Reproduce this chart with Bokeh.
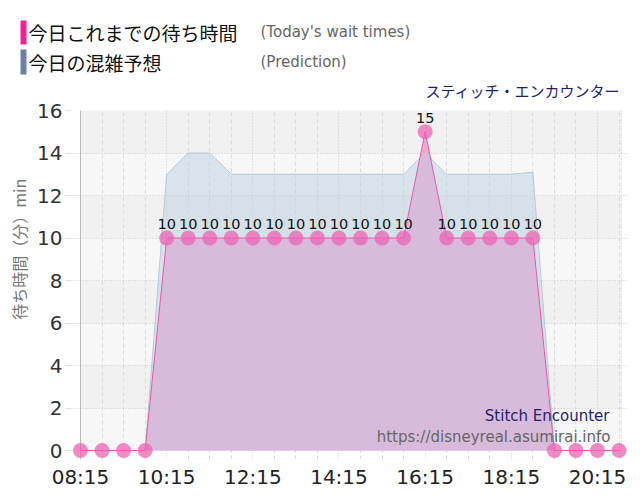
import math
from bokeh.plotting import figure
from bokeh.models import (Range1d, FixedTicker, Label, Span, ColumnDataSource)
from bokeh.layouts import column, row
from bokeh.core.properties import value
from bokeh.embed import file_html
from bokeh.resources import INLINE

# ---------------- data ----------------
times = ["08:15", "08:45", "09:15", "09:45", "10:15", "10:45", "11:15", "11:45",
         "12:15", "12:45", "13:15", "13:45", "14:15", "14:45", "15:15", "15:45",
         "16:15", "16:45", "17:15", "17:45", "18:15", "18:45", "19:15", "19:45",
         "20:15", "20:45"]
wait_times = [0, 0, 0, 0, 10, 10, 10, 10, 10, 10, 10, 10, 10, 10, 10, 10,
              15, 10, 10, 10, 10, 10, 0, 0, 0, 0]
prediction = [0, 0, 0, 0, 13, 14, 14, 13, 13, 13, 13, 13, 13, 13, 13, 13,
              14, 13, 13, 13, 13, 13.1, 0, 0, 0, 0]
x_tick_labels = ["08:15", "10:15", "12:15", "14:15", "16:15", "18:15", "20:15"]
y_ticks = [0, 2, 4, 6, 8, 10, 12, 14, 16]

title_ja = "スティッチ・エンカウンター"
title_en = "Stitch Encounter"
site = "https://disneyreal.asumirai.info"
legend_wait = "今日これまでの待ち時間"
legend_wait_en = "(Today's wait times)"
legend_pred = "今日の混雑予想"
legend_pred_en = "(Prediction)"
y_label = "待ち時間（分）min"


def to_h(t):
    h, m = t.split(":")
    return int(h) + int(m) / 60.0


xs = [to_h(t) for t in times]
x_ticks = [to_h(t) for t in x_tick_labels]
minor = [x_ticks[0] + 0.5 * k for k in range(26) if (0.5 * k) % 2 != 0]

TOTAL_W = 632
TOP_H = 100
LEFT_W = 34
MAIN_H = 395
FL, FB = 71, 459  # frame left / bottom in page pixels


def blank(w, h, xr, yr):
    f = figure(width=w, height=h, output_backend="svg", toolbar_location=None,
               x_range=xr, y_range=yr, min_border=0, min_border_left=0,
               min_border_right=0, min_border_top=0, min_border_bottom=0,
               background_fill_color="white", border_fill_color="white",
               outline_line_color=None)
    f.axis.visible = False
    f.grid.visible = False
    return f


# ---------------- top (legend + title) ----------------
top = blank(TOTAL_W, TOP_H, Range1d(0, TOTAL_W), Range1d(TOP_H, 0))
top.quad(left=[20, 20], right=[26, 26], top=[20, 49], bottom=[44, 74],
         fill_color=["#ff1e96", "#6a82a8"], line_color=None)


def tlab(f, x, y, text, size, color, font, align="left", angle=0.0):
    f.add_layout(Label(x=x, y=y, text=text, text_font=font, text_font_size=size,
                       text_color=color, text_align=align,
                       text_baseline="middle", angle=angle))


tlab(top, 28, 32, legend_wait, "19px", "#111111", "Noto Sans CJK JP")
tlab(top, 28, 62, legend_pred, "19px", "#111111", "Noto Sans CJK JP")
tlab(top, 260, 31, legend_wait_en, "15px", "#666666", "DejaVu Sans")
tlab(top, 260, 61, legend_pred_en, "15px", "#666666", "DejaVu Sans")
tlab(top, 620, 90, title_ja, "15px", "#1f1f6b", "Noto Sans CJK JP", align="right")

# ---------------- left (y axis title) ----------------
left = blank(LEFT_W, MAIN_H, Range1d(0, LEFT_W), Range1d(TOP_H + MAIN_H, TOP_H))
tlab(left, 18, 257, y_label, "16px", "#777777", "Noto Sans CJK JP",
     align="center", angle=math.pi / 2)

# ---------------- main chart ----------------
MAIN_W = TOTAL_W - LEFT_W
p = figure(width=MAIN_W, height=MAIN_H, output_backend="svg",
           toolbar_location=None,
           x_range=Range1d(8.0411, 20.9464), y_range=Range1d(-0.4235, 16),
           min_border_left=FL - LEFT_W, min_border_right=TOTAL_W - 627,
           min_border_top=110 - TOP_H,
           min_border_bottom=TOP_H + MAIN_H - FB,
           background_fill_color="white", border_fill_color="white",
           outline_line_color=None)

band_bottom = y_ticks[:-1]
band_top = y_ticks[1:]
band_colors = ["#f7f7f7" if i % 2 == 0 else "#f1f1f1" for i in range(len(band_bottom))]
bands = p.quad(left=x_ticks[0], right=20.807, bottom=band_bottom, top=band_top,
               fill_color=band_colors, line_color=None)
bands.level = "image"

p.add_layout(Span(location=x_ticks[0], dimension="height", line_color="#bbbbbb",
                  line_width=1, level="underlay"))
p.add_layout(Span(location=20.807, dimension="height", line_color="#d0d0d0",
                  line_width=1, line_dash="1 2", level="underlay"))

src = ColumnDataSource(dict(x=xs, w=wait_times, p=prediction,
                            z=[0] * len(xs)))

p.varea(x="x", y1="z", y2="w", source=src, fill_color="#f4a6d4", fill_alpha=1.0)
p.varea(x="x", y1="z", y2="p", source=src, fill_color="#bcd0df", fill_alpha=0.5)
p.line(x="x", y="p", source=src, line_color="#b9c9d6", line_width=1)
p.line(x="x", y="w", source=src, line_color="#e55aa8", line_width=1)
p.scatter(x="x", y="w", source=src, size=15, fill_color="#ec64b2",
          fill_alpha=0.75, line_color=None)

lab_x = [x for x, w in zip(xs, wait_times) if w > 0]
lab_y = [w for w in wait_times if w > 0]
lab_t = [str(w) for w in lab_y]
p.text(x=lab_x, y=lab_y, text=lab_t, text_align="center", text_baseline="bottom",
       y_offset=-9, text_font=value("DejaVu Sans"), text_font_size="14.5px",
       text_color="#111111")

p.xaxis.ticker = FixedTicker(ticks=x_ticks, minor_ticks=minor)
p.xaxis.major_label_overrides = {t: l for t, l in zip(x_ticks, x_tick_labels)}
p.xaxis.axis_line_color = None
p.xaxis.major_tick_line_color = None
p.xaxis.major_tick_out = 0
p.xaxis.major_tick_in = 0
p.xaxis.minor_tick_line_color = None
p.xaxis.minor_tick_out = 0
p.xaxis.major_label_standoff = 5
p.xaxis.major_label_text_font = "DejaVu Sans"
p.xaxis.major_label_text_font_size = "20px"
p.xaxis.major_label_text_color = "#222222"

p.yaxis.ticker = FixedTicker(ticks=y_ticks)
p.yaxis.axis_line_color = None
p.yaxis.major_tick_out = 6
p.yaxis.major_tick_in = 0
p.yaxis.major_tick_line_color = "#dddddd"
p.yaxis.minor_tick_line_color = None
p.yaxis.major_label_standoff = 3
p.yaxis.major_label_text_font = "DejaVu Sans"
p.yaxis.major_label_text_font_size = "20px"
p.yaxis.major_label_text_color = "#333333"

p.xgrid.grid_line_color = "#cccccc"
p.xgrid.grid_line_dash = "1 2"
p.xgrid.minor_grid_line_color = "#dcdcdc"
p.xgrid.minor_grid_line_dash = "4 3"
p.ygrid.grid_line_color = "#c8c8c8"
p.ygrid.grid_line_dash = "1 2"


# screen units of annotations are relative to the frame (left, bottom)
def flab(px, py, text, size, color, font, align="left"):
    p.add_layout(Label(x=px - FL, y=FB - py, x_units="screen", y_units="screen",
                       text=text, text_font=font, text_font_size=size,
                       text_color=color, text_align=align,
                       text_baseline="middle"))


flab(609, 415, title_en, "15px", "#1f1f6b", "DejaVu Sans", align="right")
flab(610, 436, site, "15px", "#666666", "DejaVu Sans", align="right")

layout = column(top, row(left, p, spacing=0), spacing=0)
open("out.html", "w").write(file_html(layout, INLINE))
